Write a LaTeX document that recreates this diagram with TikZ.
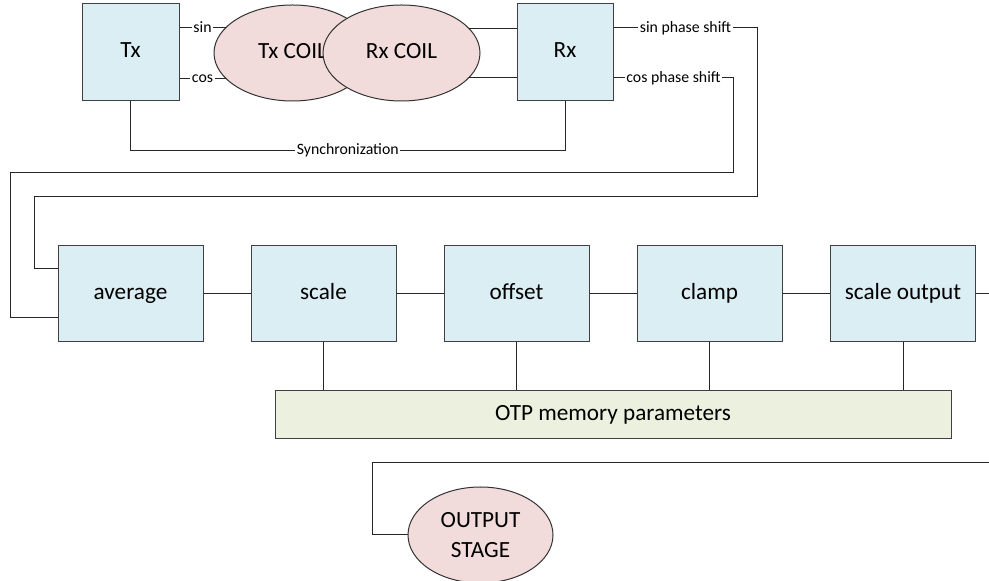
\documentclass[tikz,border=0pt]{standalone}
\usepackage{fontspec}
\setmainfont{Carlito}
\usetikzlibrary{shapes.geometric}

\definecolor{blockblue}{HTML}{DAEEF3}
\definecolor{coilpink}{HTML}{F2DCDB}
\definecolor{otpgreen}{HTML}{EBF1DE}
\definecolor{edgegray}{HTML}{404040}

\begin{document}
\begin{tikzpicture}[x=0.5pt, y=-0.5pt,
        block/.style={draw=edgegray, fill=blockblue, line width=0.5pt,
            minimum width=72.5pt, minimum height=48pt, inner sep=0pt,
            text height=8pt, text depth=2.5pt,
            font=\fontsize{11.6}{14}\selectfont},
        coil/.style={ellipse, draw=black!80, fill=coilpink, line width=0.5pt,
            minimum width=78.5pt, minimum height=48pt, inner sep=0pt,
            font=\fontsize{11.6}{14}\selectfont},
        sig/.style={fill=white, inner sep=0.8pt, font=\fontsize{7.9}{9}\selectfont},
        wire/.style={draw=black!85, line width=0.5pt}]

        % Fix the page size.
        \useasboundingbox (0,0) rectangle (989,581);

        % Transmitter, the two coils and the receiver.
        \node[block, minimum width=48.5pt, minimum height=48.5pt] (tx) at (130.5, 52.5) {Tx};
        \node[block, minimum width=48pt,   minimum height=48.5pt] (rx) at (565, 52.5) {Rx};
        \node[coil, text height=8pt, text depth=2.5pt] (txcoil) at (292.5, 53) {Tx COIL};
        \node[coil, text height=8pt, text depth=2.5pt] (rxcoil) at (401.5, 53) {Rx COIL};

        % Processing chain.
        \node[block] (average)  at (130.5, 294) {average};
        \node[block] (scale)    at (323.5, 294) {scale};
        \node[block] (offset)   at (516.5, 294) {offset};
        \node[block] (clamp)    at (709.5, 294) {clamp};
        \node[block] (scaleout) at (903,   294) {scale output};

        % Memory block and the output stage.
        \node[block, fill=otpgreen, minimum width=338pt, minimum height=24pt] (otp) at (613, 415)
            {OTP memory parameters};
        \node[coil, minimum width=72.5pt, align=center,
            font=\fontsize{11.6}{15}\selectfont] (outstage) at (480.5, 535) {OUTPUT\\STAGE};

        \coordinate (rightedge) at (989, 0);

        % Signals between Tx, the coils and Rx.
        \draw[wire] (txcoil.159.5 -| tx.east) -- node[sig]{sin} (txcoil.159.5);
        \draw[wire] (txcoil.-159.5 -| tx.east) -- node[sig]{cos} (txcoil.-159.5);
        \draw[wire] (rxcoil.20.5) -- (rxcoil.20.5 -| rx.west);
        \draw[wire] (rxcoil.-20.5) -- (rxcoil.-20.5 -| rx.west);

        % Synchronization from Tx to Rx.
        \draw[wire] (tx.south) -- ++(0, 49) coordinate (sync)
            -- node[sig]{Synchronization} (sync -| rx.south) -- (rx.south);

        % Phase shifted signals back to the average block.
        \draw[wire] ([yshift=12.25pt]rx.east) -- node[sig]{sin phase shift} ++(144, 0)
            |- (34, 197) |- ([yshift=12.5pt]average.west);
        \draw[wire] ([yshift=-12.75pt]rx.east) -- node[sig]{cos phase shift} ++(120, 0)
            |- (10, 173) |- ([yshift=-12pt]average.west);

        % Chain links.
        \foreach \a/\b in {average/scale, scale/offset, offset/clamp, clamp/scaleout}
            \draw[wire] (\a.east) -- (\b.west);
        \draw[wire] (scaleout.east) -- (scaleout.east -| rightedge);

        % Parameters from the memory.
        \foreach \b in {scale, offset, clamp, scaleout}
            \draw[wire] (\b.south) -- (\b.south |- otp.north);

        % Output stage feed.
        \draw[wire] (outstage.west) -| (372, 463) coordinate (feed) -- (feed -| rightedge);
    \end{tikzpicture}
\end{document}
